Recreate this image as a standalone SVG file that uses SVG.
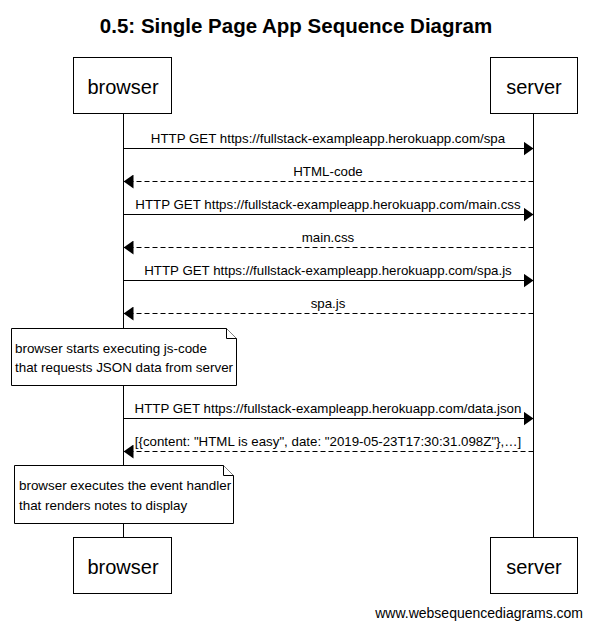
<svg xmlns="http://www.w3.org/2000/svg" width="591" height="629" viewBox="0 0 591 629">
<defs>
<style>
text{font-family:"Liberation Sans",Arial,sans-serif;fill:#000}
.title{font-size:20.5px;font-weight:bold;text-anchor:middle}
.actor{fill:#fff;stroke:#000;stroke-width:1}
.actor-label{font-size:20px;text-anchor:middle}
.life{stroke:#000;stroke-width:1}
.msg{stroke:#000;stroke-width:1;fill:none}
.ret{stroke:#000;stroke-width:1;fill:none;stroke-dasharray:5,3}
.lbl{font-size:13.3px;text-anchor:middle}
.note{fill:#fff;stroke:#000;stroke-width:1}
.note-text{font-size:13.4px}
.foot{font-size:14px;text-anchor:end}
</style>
<marker id="ah" viewBox="0 0 10 14" refX="10" refY="7" markerWidth="10" markerHeight="14" markerUnits="userSpaceOnUse" orient="auto">
<path d="M0,0 L10,7 L0,14 Z" fill="#000"/>
</marker>
</defs>
<rect width="591" height="629" fill="#fff"/>
<text class="title" x="296" y="33">0.5: Single Page App Sequence Diagram</text>

<g id="lifelines">
<line class="life" x1="123.5" y1="113" x2="123.5" y2="537"/>
<line class="life" x1="533.5" y1="113" x2="533.5" y2="537"/>
</g>

<g id="browser">
<rect class="actor" x="73.5" y="57.5" width="98" height="56"/>
<text class="actor-label" x="123" y="94">browser</text>
</g>
<g id="server">
<rect class="actor" x="490.5" y="57.5" width="87" height="56"/>
<text class="actor-label" x="534" y="94">server</text>
</g>
<g id="browser-bottom">
<rect class="actor" x="73.5" y="537.5" width="98" height="56"/>
<text class="actor-label" x="123" y="574">browser</text>
</g>
<g id="server-bottom">
<rect class="actor" x="490.5" y="537.5" width="87" height="56"/>
<text class="actor-label" x="534" y="574">server</text>
</g>

<g id="connectors">
<line class="msg" x1="123.5" y1="148.5" x2="533.5" y2="148.5" marker-end="url(#ah)"/>
<text class="lbl" x="328" y="143">HTTP GET https://fullstack-exampleapp.herokuapp.com/spa</text>
<line class="ret" x1="533.5" y1="181.5" x2="123.5" y2="181.5" marker-end="url(#ah)"/>
<text class="lbl" x="328" y="176">HTML-code</text>
<line class="msg" x1="123.5" y1="214.5" x2="533.5" y2="214.5" marker-end="url(#ah)"/>
<text class="lbl" x="328" y="209">HTTP GET https://fullstack-exampleapp.herokuapp.com/main.css</text>
<line class="ret" x1="533.5" y1="247.5" x2="123.5" y2="247.5" marker-end="url(#ah)"/>
<text class="lbl" x="328" y="242">main.css</text>
<line class="msg" x1="123.5" y1="280.5" x2="533.5" y2="280.5" marker-end="url(#ah)"/>
<text class="lbl" x="328" y="275">HTTP GET https://fullstack-exampleapp.herokuapp.com/spa.js</text>
<line class="ret" x1="533.5" y1="313.5" x2="123.5" y2="313.5" marker-end="url(#ah)"/>
<text class="lbl" x="328" y="308">spa.js</text>
<line class="msg" x1="123.5" y1="418.5" x2="533.5" y2="418.5" marker-end="url(#ah)"/>
<text class="lbl" x="328" y="413">HTTP GET https://fullstack-exampleapp.herokuapp.com/data.json</text>
<line class="ret" x1="533.5" y1="451.5" x2="123.5" y2="451.5" marker-end="url(#ah)"/>
<text class="lbl" x="328" y="446">[{content: "HTML is easy", date: "2019-05-23T17:30:31.098Z"},…]</text>
</g>

<g id="note1">
<path class="note" d="M11.5,328.5 H226.5 L236.5,338.5 V385.5 H11.5 Z"/>
<path class="note" d="M226.5,328.5 V338.5 H236.5" fill="none"/>
<text class="note-text" x="15" y="353">browser starts executing js-code</text>
<text class="note-text" x="15" y="372">that requests JSON data from server</text>
</g>
<g id="note2">
<path class="note" d="M14.5,465.5 H223.5 L233.5,475.5 V523.5 H14.5 Z"/>
<path class="note" d="M223.5,465.5 V475.5 H233.5" fill="none"/>
<text class="note-text" x="19" y="490">browser executes the event handler</text>
<text class="note-text" x="19" y="510">that renders notes to display</text>
</g>

<text class="foot" x="583" y="618">www.websequencediagrams.com</text>
</svg>
